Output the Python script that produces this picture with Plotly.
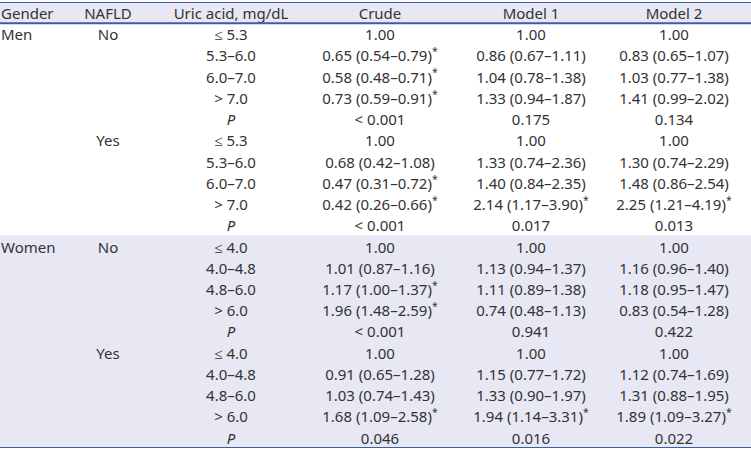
import plotly.graph_objects as go

# Table content (hazard ratios with 95% CI); "*" marks significant estimates
headers = ['Gender', 'NAFLD', 'Uric acid, mg/dL', 'Crude', 'Model 1', 'Model 2']

gender = ['Men', '', '', '', '', '', '', '', '', '',
          'Women', '', '', '', '', '', '', '', '', '']
nafld = ['No', '', '', '', '', 'Yes', '', '', '', '',
         'No', '', '', '', '', 'Yes', '', '', '', '']
uric = ['≤ 5.3', '5.3–6.0', '6.0–7.0', '> 7.0', 'P',
        '≤ 5.3', '5.3–6.0', '6.0–7.0', '> 7.0', 'P',
        '≤ 4.0', '4.0–4.8', '4.8–6.0', '> 6.0', 'P',
        '≤ 4.0', '4.0–4.8', '4.8–6.0', '> 6.0', 'P']
crude = ['1.00', '0.65 (0.54–0.79)*', '0.58 (0.48–0.71)*', '0.73 (0.59–0.91)*', '< 0.001',
         '1.00', '0.68 (0.42–1.08)', '0.47 (0.31–0.72)*', '0.42 (0.26–0.66)*', '< 0.001',
         '1.00', '1.01 (0.87–1.16)', '1.17 (1.00–1.37)*', '1.96 (1.48–2.59)*', '< 0.001',
         '1.00', '0.91 (0.65–1.28)', '1.03 (0.74–1.43)', '1.68 (1.09–2.58)*', '0.046']
model1 = ['1.00', '0.86 (0.67–1.11)', '1.04 (0.78–1.38)', '1.33 (0.94–1.87)', '0.175',
          '1.00', '1.33 (0.74–2.36)', '1.40 (0.84–2.35)', '2.14 (1.17–3.90)*', '0.017',
          '1.00', '1.13 (0.94–1.37)', '1.11 (0.89–1.38)', '0.74 (0.48–1.13)', '0.941',
          '1.00', '1.15 (0.77–1.72)', '1.33 (0.90–1.97)', '1.94 (1.14–3.31)*', '0.016']
model2 = ['1.00', '0.83 (0.65–1.07)', '1.03 (0.77–1.38)', '1.41 (0.99–2.02)', '0.134',
          '1.00', '1.30 (0.74–2.29)', '1.48 (0.86–2.54)', '2.25 (1.21–4.19)*', '0.013',
          '1.00', '1.16 (0.96–1.40)', '1.18 (0.95–1.47)', '0.83 (0.54–1.28)', '0.422',
          '1.00', '1.12 (0.74–1.69)', '1.31 (0.88–1.95)', '1.89 (1.09–3.27)*', '0.022']

SHADE = '#e7e8f4'
BLUE = '#3d5cae'
TEXT = '#333333'
FONT = dict(family='Noto Sans', size=15, color=TEXT)

# column anchor x (px) and text anchoring
col_x = [1, 108, 231, 380, 531, 674]
col_pos = ['middle right'] + ['middle center'] * 5
NUDGE = 0.12  # text sits a little low in its row, as in the source table


def fmt(s):
    if s == 'P':
        return '<i>P</i>'
    if s.endswith('*'):
        return s[:-1] + '<sup>*</sup>'
    return s


columns = [gender, nafld, uric, crude, model1, model2]
n_rows = len(uric)

fig = go.Figure()

for j, col in enumerate(columns):
    rows = [i for i, v in enumerate(col) if v]
    fig.add_trace(go.Scatter(
        x=[col_x[j]] * (len(rows) + 1),
        y=[r + NUDGE for r in [-1] + rows],
        text=[headers[j]] + [fmt(col[i]) for i in rows],
        mode='text', textposition=col_pos[j], textfont=FONT,
        hoverinfo='skip', showlegend=False))

# shaded header and Women block
women_start = gender.index('Women')
for y0, y1 in [(-1.5, -0.5), (women_start - 0.5, n_rows - 0.5)]:
    fig.add_shape(type='rect', xref='paper', yref='y', x0=0, x1=1, y0=y0, y1=y1,
                  fillcolor=SHADE, line=dict(width=0), layer='below')

# horizontal rules: top, below header, bottom
for y in [-1.5, -0.5, n_rows - 0.5]:
    fig.add_shape(type='line', xref='paper', yref='y', x0=0, x1=1, y0=y, y1=y,
                  line=dict(color=BLUE, width=2))

fig.update_xaxes(range=[0, 751], visible=False, fixedrange=True)
fig.update_yaxes(range=[n_rows - 0.5, -1.5], visible=False, fixedrange=True)
fig.update_layout(width=751, height=452, margin=dict(l=0, r=0, t=2, b=4),
                  paper_bgcolor='white', plot_bgcolor='white')

fig.write_html("out.html", config={'displayModeBar': False},
               post_script="document.body.style.margin='0';")
